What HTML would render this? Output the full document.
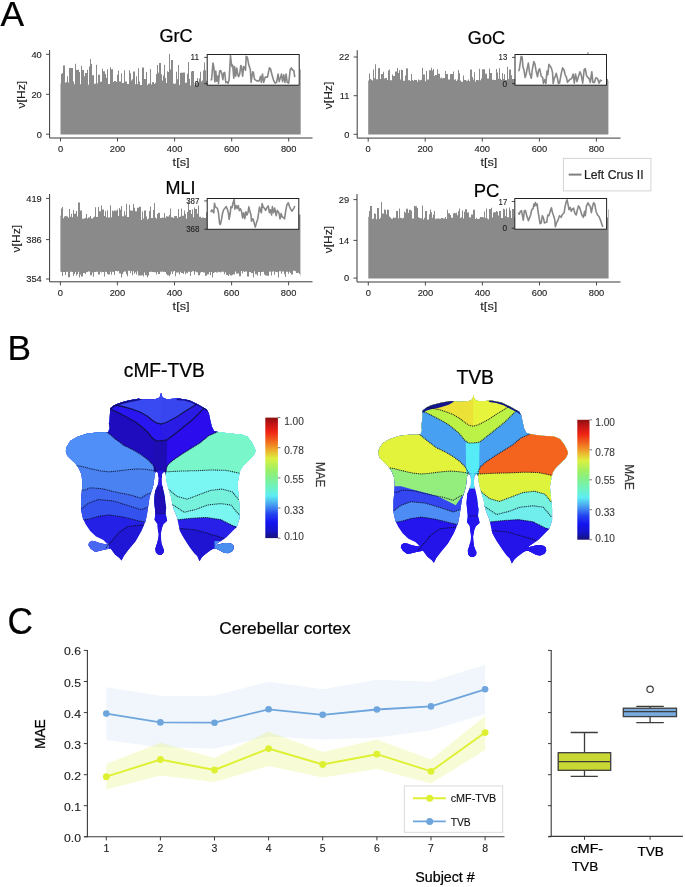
<!DOCTYPE html>
<html><head><meta charset="utf-8"><style>
html,body{margin:0;padding:0;background:#fff;}
svg{display:block;filter:blur(0.35px);}
text{font-family:"Liberation Sans", sans-serif;}
</style></head><body>
<svg width="685" height="887" viewBox="0 0 685 887">
<rect width="685" height="887" fill="#fff"/>
<path d="M60.5,134.6L60.5,83.4L61,83.4L61,74L62,74L62,73L63,73L63,65.5L65,65.5L65,82.8L66,82.8L66,82.1L67,82.1L67,76.2L68,76.2L68,82.4L69,82.4L69,68L71,68L71,67.9L73,67.9L73,81.5L74,81.5L74,84.3L75,84.3L75,63.8L76,63.8L76,70.1L77,70.1L77,69.8L79,69.8L79,72L80,72L80,84.3L81,84.3L81,65.8L82,65.8L82,70.1L84,70.1L84,76.3L85,76.3L85,73L87,73L87,69.8L88,69.8L88,84.7L89,84.7L89,66.5L90,66.5L90,59.1L91,59.1L91,64L92,64L92,75.3L94,75.3L94,83.8L96,83.8L96,64.8L97,64.8L97,83.2L98,83.2L98,74.7L100,74.7L100,81.7L102,81.7L102,68.8L103,68.8L103,71.2L105,71.2L105,74L106,74L106,77.7L107,77.7L107,69.2L108,69.2L108,84.1L110,84.1L110,67.3L111,67.3L111,69.2L113,69.2L113,81.9L114,81.9L114,80.9L116,80.9L116,82L117,82L117,74.8L118,74.8L118,70.4L119,70.4L119,81.4L120,81.4L120,81.4L121,81.4L121,73.2L122,73.2L122,82.9L124,82.9L124,70.3L125,70.3L125,81.4L127,81.4L127,84L129,84L129,70.3L130,70.3L130,73.2L131,73.2L131,80.4L132,80.4L132,79.3L133,79.3L133,71.4L135,71.4L135,84.3L136,84.3L136,76.3L137,76.3L137,84L138,84L138,68.2L139,68.2L139,81.6L140,81.6L140,85.1L142,85.1L142,67.6L144,67.6L144,78.9L146,78.9L146,72L147,72L147,85L148,85L148,83.8L149,83.8L149,83.4L150,83.4L150,69L151,69L151,84.5L152,84.5L152,82.2L153,82.2L153,82.1L154,82.1L154,83.9L155,83.9L155,82.7L156,82.7L156,74.1L157,74.1L157,64.9L158,64.9L158,72.8L159,72.8L159,63.1L161,63.1L161,74.3L162,74.3L162,80.6L163,80.6L163,75.4L164,75.4L164,64.7L165,64.7L165,78L166,78L166,82.9L167,82.9L167,71.3L168,71.3L168,72.1L169,72.1L169,54.1L170,54.1L170,69.6L171,69.6L171,60.1L173,60.1L173,83.6L174,83.6L174,83.9L175,83.9L175,83.4L176,83.4L176,71.7L177,71.7L177,79.2L178,79.2L178,64.9L179,64.9L179,85.1L180,85.1L180,72.8L182,72.8L182,72.7L183,72.7L183,72.6L185,72.6L185,82.8L187,82.8L187,73.7L188,73.7L188,61.9L189,61.9L189,79.1L190,79.1L190,85.5L191,85.5L191,71.4L192,71.4L192,71.1L194,71.1L194,85.3L195,85.3L195,82.8L197,82.8L197,78L198,78L198,83.3L199,83.3L199,78.6L200,78.6L200,71.8L201,71.8L201,81.6L202,81.6L202,80.6L203,80.6L203,70.4L204,70.4L204,62.4L205,62.4L205,70.2L206,70.2L206,80.8L207,80.8L207,82.2L208,82.2L208,77.4L209,77.4L209,82.7L210,82.7L210,76.5L211,76.5L211,70.9L212,70.9L212,80.7L213,80.7L213,84L215,84L215,66L216,66L216,67.3L217,67.3L217,84.3L218,84.3L218,78.5L219,78.5L219,84.1L220,84.1L220,54.1L222,54.1L222,83.8L223,83.8L223,83.5L224,83.5L224,81.4L226,81.4L226,73.7L228,73.7L228,83.1L229,83.1L229,65L231,65L231,58.6L232,58.6L232,81.3L233,81.3L233,74.6L235,74.6L235,76.8L236,76.8L236,82.1L237,82.1L237,68.1L238,68.1L238,82.6L239,82.6L239,68.8L240,68.8L240,83.2L241,83.2L241,82L242,82L242,77.6L243,77.6L243,82.6L245,82.6L245,75.8L246,75.8L246,74.4L247,74.4L247,75.3L248,75.3L248,70.7L249,70.7L249,83.6L251,83.6L251,73.1L252,73.1L252,66.1L254,66.1L254,84L255,84L255,63L256,63L256,81.5L257,81.5L257,65.1L258,65.1L258,64.5L260,64.5L260,68.5L261,68.5L261,81.8L262,81.8L262,82.4L263,82.4L263,81.5L264,81.5L264,74.9L265,74.9L265,70.4L266,70.4L266,81.3L267,81.3L267,82.3L268,82.3L268,84.3L269,84.3L269,68.2L270,68.2L270,59.6L271,59.6L271,82.9L273,82.9L273,73.5L274,73.5L274,82.6L275,82.6L275,65.2L277,65.2L277,83.1L278,83.1L278,70L279,70L279,82.8L280,82.8L280,73.5L282,73.5L282,83.1L283,83.1L283,66.1L284,66.1L284,63.5L285,63.5L285,83.9L286,83.9L286,77.7L287,77.7L287,68.7L288,68.7L288,68.8L289,68.8L289,57.9L290,57.9L290,75.6L291,75.6L291,83.5L292,83.5L292,68.4L293,68.4L293,84.9L294,84.9L294,84.2L296,84.2L296,77.5L297,77.5L297,72.2L298,72.2L298,85.5L300,85.5L300,69.5L300.7,69.5L300.7,134.6Z" fill="#8a8a8a"/>
<path d="M49.6,50V138H312.5" fill="none" stroke="#3a3a3a" stroke-width="1.0"/>
<path d="M46,134.2H49.6" stroke="#3a3a3a" stroke-width="0.9"/>
<text x="41.8" y="137.5" font-size="9.3" text-anchor="end" fill="#222" stroke="#222" stroke-width="0.12" >0</text>
<path d="M46,94.3H49.6" stroke="#3a3a3a" stroke-width="0.9"/>
<text x="41.8" y="97.6" font-size="9.3" text-anchor="end" fill="#222" stroke="#222" stroke-width="0.12" >20</text>
<path d="M46,54.3H49.6" stroke="#3a3a3a" stroke-width="0.9"/>
<text x="41.8" y="57.6" font-size="9.3" text-anchor="end" fill="#222" stroke="#222" stroke-width="0.12" >40</text>
<path d="M60.5,138V141.6" stroke="#3a3a3a" stroke-width="0.9"/>
<text x="60.5" y="152.3" font-size="9.3" text-anchor="middle" fill="#222" stroke="#222" stroke-width="0.12" >0</text>
<path d="M117.5,138V141.6" stroke="#3a3a3a" stroke-width="0.9"/>
<text x="117.5" y="152.3" font-size="9.3" text-anchor="middle" fill="#222" stroke="#222" stroke-width="0.12" >200</text>
<path d="M174.6,138V141.6" stroke="#3a3a3a" stroke-width="0.9"/>
<text x="174.6" y="152.3" font-size="9.3" text-anchor="middle" fill="#222" stroke="#222" stroke-width="0.12" >400</text>
<path d="M231.7,138V141.6" stroke="#3a3a3a" stroke-width="0.9"/>
<text x="231.7" y="152.3" font-size="9.3" text-anchor="middle" fill="#222" stroke="#222" stroke-width="0.12" >600</text>
<path d="M288.7,138V141.6" stroke="#3a3a3a" stroke-width="0.9"/>
<text x="288.7" y="152.3" font-size="9.3" text-anchor="middle" fill="#222" stroke="#222" stroke-width="0.12" >800</text>
<text x="181.1" y="166.3" font-size="11" text-anchor="middle" fill="#222" stroke="#222" stroke-width="0.12" textLength="17" lengthAdjust="spacingAndGlyphs" >t[s]</text>
<text x="25.1" y="94.7" font-size="11" text-anchor="middle" fill="#222" stroke="#222" stroke-width="0.12" textLength="27.5" lengthAdjust="spacingAndGlyphs" transform="rotate(-90 25.1 94.7)" >&#957;[Hz]</text>
<path d="M368.2,134.6L368.2,80.5L369,80.5L369,73.6L370,73.6L370,78.9L371,78.9L371,79.7L372,79.7L372,80.4L373,80.4L373,69.4L374,69.4L374,78.3L375,78.3L375,64.2L376,64.2L376,79.2L378,79.2L378,68.3L379,68.3L379,67.9L380,67.9L380,78.9L381,78.9L381,74L383,74L383,71.7L384,71.7L384,78.4L385,78.4L385,77.9L387,77.9L387,80L388,80L388,70.6L389,70.6L389,69.6L390,69.6L390,80.3L391,80.3L391,80.2L392,80.2L392,74.6L393,74.6L393,76.1L395,76.1L395,71.6L397,71.6L397,68L398,68L398,72.9L399,72.9L399,70.3L400,70.3L400,79.5L401,79.5L401,69.7L402,69.7L402,70L403,70L403,80.8L405,80.8L405,75.5L406,75.5L406,68.3L407,68.3L407,68.6L408,68.6L408,80.3L409,80.3L409,79.9L410,79.9L410,81.1L411,81.1L411,74L412,74L412,80.1L413,80.1L413,80.7L414,80.7L414,79.7L415,79.7L415,80.1L417,80.1L417,81.7L418,81.7L418,79.6L419,79.6L419,80.3L421,80.3L421,79.7L422,79.7L422,67.7L423,67.7L423,74.5L425,74.5L425,81.3L426,81.3L426,70.9L427,70.9L427,79.6L429,79.6L429,70.2L431,70.2L431,67.7L432,67.7L432,70.4L433,70.4L433,68.9L434,68.9L434,76.1L435,76.1L435,74.9L437,74.9L437,69.2L438,69.2L438,73.7L440,73.7L440,78.3L441,78.3L441,77.5L442,77.5L442,78.6L443,78.6L443,77.9L445,77.9L445,71L446,71L446,73.9L447,73.9L447,74L448,74L448,79.6L450,79.6L450,74.1L452,74.1L452,74.1L453,74.1L453,71.6L454,71.6L454,79.8L455,79.8L455,79.2L456,79.2L456,80.9L457,80.9L457,79.4L458,79.4L458,70.1L459,70.1L459,73.3L460,73.3L460,80.4L461,80.4L461,81.7L463,81.7L463,75.6L464,75.6L464,79.9L466,79.9L466,80.8L468,80.8L468,79.6L469,79.6L469,81.3L470,81.3L470,69.6L472,69.6L472,76.9L473,76.9L473,79.6L474,79.6L474,72.2L475,72.2L475,81.7L476,81.7L476,80.1L478,80.1L478,80.3L479,80.3L479,68.8L480,68.8L480,80.3L481,80.3L481,78.6L482,78.6L482,69.2L483,69.2L483,69.2L485,69.2L485,73.7L487,73.7L487,78.4L489,78.4L489,68.6L490,68.6L490,72.9L492,72.9L492,79.8L494,79.8L494,80.1L496,80.1L496,69L497,69L497,72.4L498,72.4L498,78.7L499,78.7L499,68.2L500,68.2L500,78.7L501,78.7L501,80L502,80L502,73.1L503,73.1L503,79L504,79L504,74.2L505,74.2L505,80.1L507,80.1L507,66.7L508,66.7L508,79L509,79L509,69.4L511,69.4L511,75.3L512,75.3L512,78.9L513,78.9L513,78.9L515,78.9L515,71.5L516,71.5L516,72.2L517,72.2L517,71.3L519,71.3L519,70.3L520,70.3L520,75.2L521,75.2L521,70L522,70L522,79.9L524,79.9L524,69.1L525,69.1L525,74.8L526,74.8L526,81.1L527,81.1L527,79.9L528,79.9L528,72.7L530,72.7L530,73.8L531,73.8L531,69.9L532,69.9L532,81L534,81L534,78.9L536,78.9L536,70L537,70L537,68.4L538,68.4L538,80.4L540,80.4L540,68.9L541,68.9L541,79L542,79L542,79.8L543,79.8L543,80.4L544,80.4L544,71.8L545,71.8L545,68.3L546,68.3L546,80.6L547,80.6L547,77.4L548,77.4L548,78.3L549,78.3L549,71.2L550,71.2L550,79.6L551,79.6L551,75L553,75L553,68.6L554,68.6L554,70.7L555,70.7L555,67.4L556,67.4L556,80.4L557,80.4L557,78.7L558,78.7L558,78.6L560,78.6L560,78.1L561,78.1L561,65L563,65L563,78.7L564,78.7L564,79.3L566,79.3L566,78.8L567,78.8L567,80.1L569,80.1L569,78.9L570,78.9L570,81.2L572,81.2L572,79.1L573,79.1L573,74.4L574,74.4L574,69.3L576,69.3L576,71.2L578,71.2L578,81.6L579,81.6L579,81.7L580,81.7L580,80.4L581,80.4L581,79.5L582,79.5L582,61.6L583,61.6L583,69L584,69L584,80.7L585,80.7L585,73.5L586,73.5L586,71.5L587,71.5L587,61.6L588,61.6L588,80.3L589,80.3L589,80.2L590,80.2L590,72.9L591,72.9L591,74.6L592,74.6L592,72.3L594,72.3L594,73.7L595,73.7L595,70.1L596,70.1L596,71.1L597,71.1L597,71.8L599,71.8L599,73.6L600,73.6L600,81L601,81L601,75.7L603,75.7L603,64.3L604,64.3L604,75.6L606,75.6L606,78.9L608,78.9L608,80.7L608.4,80.7L608.4,134.6Z" fill="#8a8a8a"/>
<path d="M357.2,50.2V138.1H620.5" fill="none" stroke="#3a3a3a" stroke-width="1.0"/>
<path d="M353.6,134.3H357.2" stroke="#3a3a3a" stroke-width="0.9"/>
<text x="349.4" y="137.6" font-size="9.3" text-anchor="end" fill="#222" stroke="#222" stroke-width="0.12" >0</text>
<path d="M353.6,95.7H357.2" stroke="#3a3a3a" stroke-width="0.9"/>
<text x="349.4" y="99" font-size="9.3" text-anchor="end" fill="#222" stroke="#222" stroke-width="0.12" >11</text>
<path d="M353.6,57H357.2" stroke="#3a3a3a" stroke-width="0.9"/>
<text x="349.4" y="60.3" font-size="9.3" text-anchor="end" fill="#222" stroke="#222" stroke-width="0.12" >22</text>
<path d="M368.2,138.1V141.7" stroke="#3a3a3a" stroke-width="0.9"/>
<text x="368.2" y="152.4" font-size="9.3" text-anchor="middle" fill="#222" stroke="#222" stroke-width="0.12" >0</text>
<path d="M425.2,138.1V141.7" stroke="#3a3a3a" stroke-width="0.9"/>
<text x="425.2" y="152.4" font-size="9.3" text-anchor="middle" fill="#222" stroke="#222" stroke-width="0.12" >200</text>
<path d="M482.3,138.1V141.7" stroke="#3a3a3a" stroke-width="0.9"/>
<text x="482.3" y="152.4" font-size="9.3" text-anchor="middle" fill="#222" stroke="#222" stroke-width="0.12" >400</text>
<path d="M539.4,138.1V141.7" stroke="#3a3a3a" stroke-width="0.9"/>
<text x="539.4" y="152.4" font-size="9.3" text-anchor="middle" fill="#222" stroke="#222" stroke-width="0.12" >600</text>
<path d="M596.4,138.1V141.7" stroke="#3a3a3a" stroke-width="0.9"/>
<text x="596.4" y="152.4" font-size="9.3" text-anchor="middle" fill="#222" stroke="#222" stroke-width="0.12" >800</text>
<text x="488.9" y="166.4" font-size="11" text-anchor="middle" fill="#222" stroke="#222" stroke-width="0.12" textLength="17" lengthAdjust="spacingAndGlyphs" >t[s]</text>
<text x="331.8" y="95.5" font-size="11" text-anchor="middle" fill="#222" stroke="#222" stroke-width="0.12" textLength="27.5" lengthAdjust="spacingAndGlyphs" transform="rotate(-90 331.8 95.5)" >&#957;[Hz]</text>
<path d="M60.4,271.5L60.4,215.8L61,215.8L61,208.5L62,208.5L62,206.9L63,206.9L63,218.2L64,218.2L64,216.6L65,216.6L65,216L66,216L66,216.2L67,216.2L67,216.4L68,216.4L68,217.8L69,217.8L69,209L70,209L70,216.8L71,216.8L71,213.8L72,213.8L72,217.2L73,217.2L73,209.9L74,209.9L74,213.7L76,213.7L76,210.9L77,210.9L77,216.5L78,216.5L78,202.4L80,202.4L80,210.4L82,210.4L82,218.7L84,218.7L84,218.5L85,218.5L85,217.7L86,217.7L86,213.9L87,213.9L87,218.6L88,218.6L88,217.5L89,217.5L89,217.5L90,217.5L90,215.9L91,215.9L91,218.6L93,218.6L93,217.4L94,217.4L94,216.6L95,216.6L95,207.3L96,207.3L96,216.9L98,216.9L98,207.1L99,207.1L99,211.3L101,211.3L101,205.6L102,205.6L102,209.5L104,209.5L104,216.1L105,216.1L105,210.9L106,210.9L106,217.2L107,217.2L107,210.2L108,210.2L108,217.5L110,217.5L110,205.3L111,205.3L111,217.3L112,217.3L112,210.4L113,210.4L113,211.2L114,211.2L114,210.6L116,210.6L116,210.8L117,210.8L117,209.4L118,209.4L118,216L119,216L119,207.9L120,207.9L120,209.7L121,209.7L121,205.9L122,205.9L122,216.3L123,216.3L123,216.2L124,216.2L124,211.3L125,211.3L125,215.2L126,215.2L126,203.8L127,203.8L127,216.9L129,216.9L129,204.7L130,204.7L130,210.6L132,210.6L132,210.8L133,210.8L133,204.1L134,204.1L134,207.8L135,207.8L135,211.3L137,211.3L137,207.8L139,207.8L139,206.7L141,206.7L141,219.9L142,219.9L142,211.5L143,211.5L143,218.5L144,218.5L144,210.5L146,210.5L146,216.4L147,216.4L147,219.4L148,219.4L148,218.6L149,218.6L149,211L150,211L150,206.4L151,206.4L151,218L153,218L153,209.9L154,209.9L154,203.1L155,203.1L155,217.4L156,217.4L156,218.6L157,218.6L157,214L158,214L158,212.8L160,212.8L160,218L162,218L162,217.5L163,217.5L163,217.7L164,217.7L164,213.1L165,213.1L165,217.8L166,217.8L166,216.2L167,216.2L167,216.6L169,216.6L169,215L170,215L170,208.4L171,208.4L171,217.2L173,217.2L173,217.9L174,217.9L174,216.3L175,216.3L175,216.1L177,216.1L177,218L178,218L178,208.9L179,208.9L179,216.9L180,216.9L180,216.6L181,216.6L181,208.5L182,208.5L182,215.7L184,215.7L184,210.5L185,210.5L185,213.7L186,213.7L186,218.7L187,218.7L187,212L188,212L188,201.2L189,201.2L189,210L191,210L191,213.9L192,213.9L192,209.5L193,209.5L193,217.3L194,217.3L194,207.6L195,207.6L195,209.1L197,209.1L197,213.8L198,213.8L198,205.6L199,205.6L199,216.8L201,216.8L201,218L202,218L202,217.6L204,217.6L204,218.1L206,218.1L206,212.2L208,212.2L208,208.3L209,208.3L209,217.6L211,217.6L211,216.2L212,216.2L212,218.1L213,218.1L213,218.4L214,218.4L214,218.4L215,218.4L215,206L217,206L217,217.1L219,217.1L219,210.7L220,210.7L220,216.9L221,216.9L221,204.4L223,204.4L223,208.1L224,208.1L224,216.7L226,216.7L226,216.4L228,216.4L228,206.8L230,206.8L230,217.4L231,217.4L231,209.8L232,209.8L232,202.3L234,202.3L234,207.3L235,207.3L235,216.3L236,216.3L236,207L237,207L237,217.1L238,217.1L238,208.2L239,208.2L239,218.4L240,218.4L240,204.3L241,204.3L241,216.3L242,216.3L242,212.3L243,212.3L243,216.6L244,216.6L244,215.3L246,215.3L246,206.9L248,206.9L248,219.2L250,219.2L250,211.3L251,211.3L251,218.1L252,218.1L252,217.7L253,217.7L253,216.9L254,216.9L254,216.2L256,216.2L256,209.1L257,209.1L257,209.1L258,209.1L258,219.2L259,219.2L259,218.1L261,218.1L261,219.4L262,219.4L262,218.4L263,218.4L263,212.9L264,212.9L264,216.6L265,216.6L265,207.8L267,207.8L267,217.2L268,217.2L268,217.2L269,217.2L269,206.2L270,206.2L270,206.9L272,206.9L272,205.4L273,205.4L273,208.2L274,208.2L274,208.7L275,208.7L275,209.6L277,209.6L277,214L278,214L278,206.8L280,206.8L280,206.4L281,206.4L281,212.4L282,212.4L282,213.8L283,213.8L283,203.5L284,203.5L284,218L285,218L285,216.7L286,216.7L286,206.7L287,206.7L287,212.1L288,212.1L288,218.5L289,218.5L289,208.6L290,208.6L290,218L291,218L291,206.6L292,206.6L292,211.3L294,211.3L294,206.6L296,206.6L296,210.4L297,210.4L297,203.9L298,203.9L298,207.7L299,207.7L299,214.4L300.4,214.4L300.4,275.6L300,275.6L300,274L299,274L299,272.7L298,272.7L298,273L296,273L296,271.2L295,271.2L295,270.8L293,270.8L293,274.6L291,274.6L291,273.1L290,273.1L290,271.7L289,271.7L289,273.7L288,273.7L288,271.8L286,271.8L286,277L285,277L285,274.2L284,274.2L284,271.6L283,271.6L283,271.6L282,271.6L282,273.8L281,273.8L281,271.2L279,271.2L279,277.5L278,277.5L278,272.2L277,272.2L277,272.1L276,272.1L276,271.8L275,271.8L275,274.8L274,274.8L274,271.3L273,271.3L273,271.8L272,271.8L272,275.5L271,275.5L271,271.4L270,271.4L270,271.7L269,271.7L269,275.7L267,275.7L267,275.4L265,275.4L265,274.4L264,274.4L264,271.8L263,271.8L263,272L261,272L261,275.8L260,275.8L260,272.1L258,272.1L258,275.7L257,275.7L257,274.2L255,274.2L255,271.2L254,271.2L254,277.5L253,277.5L253,273.1L252,273.1L252,273.2L251,273.2L251,272L249,272L249,276.4L247,276.4L247,271.6L245,271.6L245,272L244,272L244,271.3L243,271.3L243,273.4L242,273.4L242,271.1L241,271.1L241,276.2L239,276.2L239,273.6L238,273.6L238,273.6L236,273.6L236,271.6L235,271.6L235,274.6L234,274.6L234,273.9L233,273.9L233,274.9L232,274.9L232,275.6L230,275.6L230,274.3L229,274.3L229,276.1L228,276.1L228,275.1L226,275.1L226,272.3L225,272.3L225,274.3L224,274.3L224,271.8L223,271.8L223,271.7L221,271.7L221,272.5L220,272.5L220,272L219,272L219,271.7L218,271.7L218,272.5L216,272.5L216,272L215,272L215,272.4L214,272.4L214,273.1L213,273.1L213,277.5L212,277.5L212,272.1L211,272.1L211,275.1L210,275.1L210,271.9L209,271.9L209,274.3L207,274.3L207,275.8L205,275.8L205,272.5L204,272.5L204,272.4L203,272.4L203,272.1L201,272.1L201,272.7L200,272.7L200,275.2L198,275.2L198,272.2L197,272.2L197,272.2L196,272.2L196,271.4L195,271.4L195,274.8L194,274.8L194,271.3L192,271.3L192,272.1L191,272.1L191,276.1L190,276.1L190,271.7L188,271.7L188,273.3L187,273.3L187,272.7L186,272.7L186,274.3L185,274.3L185,271.5L184,271.5L184,274L183,274L183,273L181,273L181,271.8L180,271.8L180,274.6L179,274.6L179,272.6L177,272.6L177,272.4L176,272.4L176,276.2L175,276.2L175,271.1L174,271.1L174,271.6L173,271.6L173,274.1L172,274.1L172,271.4L171,271.4L171,274.6L170,274.6L170,276.2L169,276.2L169,275.3L167,275.3L167,274.1L166,274.1L166,272L165,272L165,271.7L164,271.7L164,272.1L163,272.1L163,271.4L162,271.4L162,271.8L160,271.8L160,273.9L159,273.9L159,274L158,274L158,272.1L157,272.1L157,274.4L156,274.4L156,272.3L154,272.3L154,272.1L152,272.1L152,271.8L150,271.8L150,271.9L149,271.9L149,275.5L148,275.5L148,277.3L147,277.3L147,275.3L145,275.3L145,272.4L144,272.4L144,276.5L143,276.5L143,275L142,275L142,275.5L140,275.5L140,275.4L138,275.4L138,271.2L137,271.2L137,274.4L136,274.4L136,272.2L135,272.2L135,273.8L134,273.8L134,271.2L133,271.2L133,275.3L132,275.3L132,270.9L131,270.9L131,273L130,273L130,270.8L128,270.8L128,276.2L127,276.2L127,274.2L126,274.2L126,271.6L124,271.6L124,272.2L123,272.2L123,274.3L122,274.3L122,277.5L121,277.5L121,273.4L119,273.4L119,270.9L118,270.9L118,271.4L117,271.4L117,271L115,271L115,275L114,275L114,271.9L113,271.9L113,271.8L112,271.8L112,274.7L111,274.7L111,271.7L110,271.7L110,274.5L109,274.5L109,274.6L108,274.6L108,274L107,274L107,271.9L106,271.9L106,271.7L105,271.7L105,276.6L104,276.6L104,272.1L102,272.1L102,272.5L101,272.5L101,271.7L100,271.7L100,274.6L98,274.6L98,271.8L96,271.8L96,272L94,272L94,276.7L93,276.7L93,272.6L92,272.6L92,275.3L90,275.3L90,271.5L88,271.5L88,272L87,272L87,272.3L86,272.3L86,274.1L85,274.1L85,273L83,273L83,276.6L81,276.6L81,274.5L80,274.5L80,277.5L79,277.5L79,271.8L78,271.8L78,274.3L77,274.3L77,275.6L76,275.6L76,272.1L75,272.1L75,274L74,274L74,276.1L73,276.1L73,272.1L72,272.1L72,271.7L70,271.7L70,277.2L68,277.2L68,271.7L67,271.7L67,272L66,272L66,274.9L65,274.9L65,272L63,272L63,276L62,276L62,272L61,272L61,271.5L60.4,271.5Z" fill="#8a8a8a"/>
<path d="M49.6,194V281.8H312.5" fill="none" stroke="#3a3a3a" stroke-width="1.0"/>
<path d="M46,279H49.6" stroke="#3a3a3a" stroke-width="0.9"/>
<text x="41.8" y="282.3" font-size="9.3" text-anchor="end" fill="#222" stroke="#222" stroke-width="0.12" >354</text>
<path d="M46,239.6H49.6" stroke="#3a3a3a" stroke-width="0.9"/>
<text x="41.8" y="242.9" font-size="9.3" text-anchor="end" fill="#222" stroke="#222" stroke-width="0.12" >386</text>
<path d="M46,198.4H49.6" stroke="#3a3a3a" stroke-width="0.9"/>
<text x="41.8" y="201.7" font-size="9.3" text-anchor="end" fill="#222" stroke="#222" stroke-width="0.12" >419</text>
<path d="M60.4,281.8V285.4" stroke="#3a3a3a" stroke-width="0.9"/>
<text x="60.4" y="296.1" font-size="9.3" text-anchor="middle" fill="#222" stroke="#222" stroke-width="0.12" >0</text>
<path d="M117.4,281.8V285.4" stroke="#3a3a3a" stroke-width="0.9"/>
<text x="117.4" y="296.1" font-size="9.3" text-anchor="middle" fill="#222" stroke="#222" stroke-width="0.12" >200</text>
<path d="M174.5,281.8V285.4" stroke="#3a3a3a" stroke-width="0.9"/>
<text x="174.5" y="296.1" font-size="9.3" text-anchor="middle" fill="#222" stroke="#222" stroke-width="0.12" >400</text>
<path d="M231.6,281.8V285.4" stroke="#3a3a3a" stroke-width="0.9"/>
<text x="231.6" y="296.1" font-size="9.3" text-anchor="middle" fill="#222" stroke="#222" stroke-width="0.12" >600</text>
<path d="M288.6,281.8V285.4" stroke="#3a3a3a" stroke-width="0.9"/>
<text x="288.6" y="296.1" font-size="9.3" text-anchor="middle" fill="#222" stroke="#222" stroke-width="0.12" >800</text>
<text x="181.1" y="310.1" font-size="11" text-anchor="middle" fill="#222" stroke="#222" stroke-width="0.12" textLength="17" lengthAdjust="spacingAndGlyphs" >t[s]</text>
<text x="19.8" y="238.7" font-size="11" text-anchor="middle" fill="#222" stroke="#222" stroke-width="0.12" textLength="27.5" lengthAdjust="spacingAndGlyphs" transform="rotate(-90 19.8 238.7)" >&#957;[Hz]</text>
<path d="M368.3,278.4L368.3,216.8L369,216.8L369,211.1L370,211.1L370,206.1L372,206.1L372,218.9L373,218.9L373,218.4L374,218.4L374,213.5L375,213.5L375,213.8L376,213.8L376,219.2L377,219.2L377,208.1L379,208.1L379,219L380,219L380,217.7L381,217.7L381,201.9L382,201.9L382,213.5L383,213.5L383,213.4L384,213.4L384,209.6L385,209.6L385,209.7L386,209.7L386,214.2L387,214.2L387,209.8L389,209.8L389,216.6L390,216.6L390,217.6L391,217.6L391,218.7L393,218.7L393,217.6L394,217.6L394,217.7L396,217.7L396,211L398,211L398,218.2L399,218.2L399,208.5L400,208.5L400,217.7L401,217.7L401,218.1L402,218.1L402,218.4L403,218.4L403,217.7L404,217.7L404,211.4L405,211.4L405,212.8L406,212.8L406,208.8L408,208.8L408,212.8L409,212.8L409,209.7L411,209.7L411,210.8L412,210.8L412,218.4L413,218.4L413,218.5L414,218.5L414,205.8L415,205.8L415,206.3L417,206.3L417,208.1L418,208.1L418,217.2L419,217.2L419,217.9L420,217.9L420,218.3L422,218.3L422,205.4L423,205.4L423,219.4L424,219.4L424,217.7L425,217.7L425,210.9L427,210.9L427,219.5L429,219.5L429,214.3L430,214.3L430,209.6L431,209.6L431,212.3L432,212.3L432,217.8L433,217.8L433,214.5L434,214.5L434,210.9L435,210.9L435,218.7L437,218.7L437,218.6L439,218.6L439,218.8L441,218.8L441,217.9L443,217.9L443,218.5L445,218.5L445,217.1L446,217.1L446,218.9L447,218.9L447,209.7L448,209.7L448,213.2L450,213.2L450,215.1L451,215.1L451,217.4L452,217.4L452,217.9L453,217.9L453,213.6L454,213.6L454,212.8L455,212.8L455,213.3L456,213.3L456,212.8L457,212.8L457,215.2L458,215.2L458,211.2L459,211.2L459,208.5L460,208.5L460,218.1L461,218.1L461,217.2L462,217.2L462,210.6L463,210.6L463,218.4L464,218.4L464,211.7L465,211.7L465,209.3L467,209.3L467,212.4L469,212.4L469,217.3L470,217.3L470,217.5L471,217.5L471,214.4L473,214.4L473,209.7L475,209.7L475,218.9L476,218.9L476,217.7L477,217.7L477,218.9L479,218.9L479,218.5L480,218.5L480,217.1L481,217.1L481,217L483,217L483,217.5L484,217.5L484,211.5L485,211.5L485,218.1L486,218.1L486,208.5L487,208.5L487,218.4L488,218.4L488,219.2L489,219.2L489,209.1L491,209.1L491,207.7L492,207.7L492,217.4L493,217.4L493,212.5L494,212.5L494,212.2L496,212.2L496,211.1L497,211.1L497,211.8L498,211.8L498,215.5L499,215.5L499,211.1L501,211.1L501,218.1L503,218.1L503,208.7L504,208.7L504,209.3L505,209.3L505,216.2L506,216.2L506,208.6L507,208.6L507,217.2L509,217.2L509,207.5L510,207.5L510,210.5L511,210.5L511,218.1L512,218.1L512,209L514,209L514,217.1L516,217.1L516,208.3L517,208.3L517,213.8L519,213.8L519,216.1L521,216.1L521,217L522,217L522,210.3L523,210.3L523,210.4L524,210.4L524,209.7L526,209.7L526,217.8L527,217.8L527,216.1L528,216.1L528,218.1L529,218.1L529,206.9L530,206.9L530,203.3L531,203.3L531,201.9L532,201.9L532,217.4L533,217.4L533,218.1L535,218.1L535,217L536,217L536,217.9L537,217.9L537,208.4L538,208.4L538,218.9L539,218.9L539,203.2L541,203.2L541,218.6L542,218.6L542,212.4L543,212.4L543,217.9L544,217.9L544,204.3L546,204.3L546,207.3L548,207.3L548,211.6L550,211.6L550,205.2L551,205.2L551,214.7L552,214.7L552,203.6L553,203.6L553,218L555,218L555,218L556,218L556,211.1L558,211.1L558,210.6L559,210.6L559,217.8L560,217.8L560,217.8L562,217.8L562,209.5L564,209.5L564,208.6L565,208.6L565,212.7L566,212.7L566,208.2L568,208.2L568,218.7L569,218.7L569,216.5L570,216.5L570,215.7L571,215.7L571,212L572,212L572,210.5L574,210.5L574,212.6L575,212.6L575,216.6L576,216.6L576,217L577,217L577,216.9L579,216.9L579,206.7L580,206.7L580,211.5L581,211.5L581,217.9L582,217.9L582,217.2L583,217.2L583,212L585,212L585,211.6L586,211.6L586,218.8L588,218.8L588,217L590,217L590,205.8L591,205.8L591,218.9L592,218.9L592,206.6L593,206.6L593,217.7L594,217.7L594,217.4L595,217.4L595,210.6L596,210.6L596,218.2L597,218.2L597,202.7L599,202.7L599,212.4L600,212.4L600,213.9L601,213.9L601,213.3L603,213.3L603,213.9L604,213.9L604,211.9L605,211.9L605,217.1L606,217.1L606,217.4L608,217.4L608,209.4L608.6,209.4L608.6,278.4Z" fill="#8a8a8a"/>
<path d="M357,194V282H620.5" fill="none" stroke="#3a3a3a" stroke-width="1.0"/>
<path d="M353.4,278.1H357" stroke="#3a3a3a" stroke-width="0.9"/>
<text x="349.2" y="281.4" font-size="9.3" text-anchor="end" fill="#222" stroke="#222" stroke-width="0.12" >0</text>
<path d="M353.4,240.4H357" stroke="#3a3a3a" stroke-width="0.9"/>
<text x="349.2" y="243.7" font-size="9.3" text-anchor="end" fill="#222" stroke="#222" stroke-width="0.12" >14</text>
<path d="M353.4,199.6H357" stroke="#3a3a3a" stroke-width="0.9"/>
<text x="349.2" y="202.9" font-size="9.3" text-anchor="end" fill="#222" stroke="#222" stroke-width="0.12" >29</text>
<path d="M368.3,282V285.6" stroke="#3a3a3a" stroke-width="0.9"/>
<text x="368.3" y="296.3" font-size="9.3" text-anchor="middle" fill="#222" stroke="#222" stroke-width="0.12" >0</text>
<path d="M425.4,282V285.6" stroke="#3a3a3a" stroke-width="0.9"/>
<text x="425.4" y="296.3" font-size="9.3" text-anchor="middle" fill="#222" stroke="#222" stroke-width="0.12" >200</text>
<path d="M482.4,282V285.6" stroke="#3a3a3a" stroke-width="0.9"/>
<text x="482.4" y="296.3" font-size="9.3" text-anchor="middle" fill="#222" stroke="#222" stroke-width="0.12" >400</text>
<path d="M539.5,282V285.6" stroke="#3a3a3a" stroke-width="0.9"/>
<text x="539.5" y="296.3" font-size="9.3" text-anchor="middle" fill="#222" stroke="#222" stroke-width="0.12" >600</text>
<path d="M596.5,282V285.6" stroke="#3a3a3a" stroke-width="0.9"/>
<text x="596.5" y="296.3" font-size="9.3" text-anchor="middle" fill="#222" stroke="#222" stroke-width="0.12" >800</text>
<text x="488.8" y="310.3" font-size="11" text-anchor="middle" fill="#222" stroke="#222" stroke-width="0.12" textLength="17" lengthAdjust="spacingAndGlyphs" >t[s]</text>
<text x="331.8" y="239.6" font-size="11" text-anchor="middle" fill="#222" stroke="#222" stroke-width="0.12" textLength="27.5" lengthAdjust="spacingAndGlyphs" transform="rotate(-90 331.8 239.6)" >&#957;[Hz]</text>
<rect x="587.2" y="52.3" width="1.3" height="3" fill="#8a8a8a"/>
<rect x="207.2" y="54.5" width="92" height="30.7" fill="#fff" stroke="#222" stroke-width="1"/>
<path d="M204.2,57.4H207.2" stroke="#222" stroke-width="0.8"/>
<text x="199.2" y="60.4" font-size="8.4" text-anchor="end" fill="#222" stroke="#222" stroke-width="0.12" textLength="8.6" lengthAdjust="spacingAndGlyphs" >11</text>
<path d="M204.2,83.6H207.2" stroke="#222" stroke-width="0.8"/>
<text x="199.2" y="86.6" font-size="8.4" text-anchor="end" fill="#222" stroke="#222" stroke-width="0.12" >0</text>
<polyline points="210.5,80.1 211.6,79.7 212.9,63 213.8,66.6 214.9,81.9 215.8,71 216.7,81.2 217.8,76.1 218.5,83.4 219.6,71 220.7,70.6 221.8,73.9 222.9,79.7 223.6,73.2 224.7,72.4 225.8,82.7 226.9,81.9 228,83.4 229.1,79.7 230.5,55.6 231.3,63 232,66.6 232.7,65.1 233.8,78.3 234.6,66.6 235.7,76.1 236.8,68.1 237.8,74.6 238.6,76.8 239.7,73.9 240.8,65.5 241.5,66.6 242.6,76.1 243.7,66.6 244.8,67.3 245.5,70.2 246.2,56.4 247.3,57.1 248.8,65.1 250.3,69.5 251.1,82.4 252.7,71.7 253.4,72.5 254.6,79.3 256.8,80.9 259.1,80.9 260.6,76.3 261.4,82.4 262.5,74 263.7,82.4 265.2,77.1 266.3,77.1 267.5,77.1 269.4,67.9 270.5,68.7 272,74.8 273.5,80.1 275.1,83.1 276.6,82.4 278.1,74 279.2,81.6 280.4,77.8 281.5,74 282.6,81.6 283.8,74.8 284.9,82.4 286.1,74 287.2,82.4 288.7,83.1 290.2,69.5 291.4,67.9 292.5,70.2 293.7,70.2 294.8,77.1" fill="none" stroke="#878787" stroke-width="1.6" stroke-linejoin="round"/>
<rect x="515" y="54.5" width="91.5" height="30.7" fill="#fff" stroke="#222" stroke-width="1"/>
<path d="M512,57.4H515" stroke="#222" stroke-width="0.8"/>
<text x="507.2" y="60.4" font-size="8.4" text-anchor="end" fill="#222" stroke="#222" stroke-width="0.12" textLength="8.6" lengthAdjust="spacingAndGlyphs" >13</text>
<path d="M512,83.6H515" stroke="#222" stroke-width="0.8"/>
<text x="507.2" y="86.6" font-size="8.4" text-anchor="end" fill="#222" stroke="#222" stroke-width="0.12" >0</text>
<polyline points="518.6,71.3 519.3,69.5 520.4,62.2 521.1,56.4 522.2,57.1 522.9,66.6 524,70.2 525.1,77.5 526.2,73.9 527.3,68.1 528.4,63 529.5,72.4 531.3,78.3 532.4,68.8 533.9,61.5 535,64.4 536.1,71 537.5,76.8 538.6,70.2 539.7,68.8 541.2,76.1 542.7,77.5 543.4,83.4 544.8,79.7 545.9,83.4 547,71 547.8,74.6 548.9,64.4 550,65.9 551.4,68.1 552.5,72.4 553.2,83.4 554.3,78.3 555.4,76.1 556.2,73.2 557.3,77.5 558.4,83.4 559.5,83.1 561,74.8 562.6,67.9 564.1,70.2 565.2,74.8 566.4,77.1 567.5,82.4 568.6,80.9 570.1,79.3 571.7,78.6 573.2,74 574.3,83.1 575.5,74 577,81.6 578.5,76.3 580,71.7 581.2,74.8 582.7,83.1 584.2,69.5 585.3,68.7 586.5,75.5 587.6,77.1 589.1,78.6 590.3,82.4 591.8,71.7 592.9,82.4 594.4,82.4 595.9,77.8 597.5,78.6 599,83.1 600.5,80.1 602,80.9" fill="none" stroke="#878787" stroke-width="1.6" stroke-linejoin="round"/>
<rect x="207.2" y="198.5" width="91.6" height="30.8" fill="#fff" stroke="#222" stroke-width="1"/>
<path d="M204.2,200.9H207.2" stroke="#222" stroke-width="0.8"/>
<text x="199.4" y="203.9" font-size="8.4" text-anchor="end" fill="#222" stroke="#222" stroke-width="0.12" textLength="13.2" lengthAdjust="spacingAndGlyphs" >387</text>
<path d="M204.2,229.2H207.2" stroke="#222" stroke-width="0.8"/>
<text x="199.4" y="232.2" font-size="8.4" text-anchor="end" fill="#222" stroke="#222" stroke-width="0.12" textLength="13.2" lengthAdjust="spacingAndGlyphs" >368</text>
<polyline points="210.8,212.1 211.9,209.9 213,211.7 213.8,212.8 214.5,203.3 215.2,206.2 216.3,207.7 217.4,208.4 218.5,212.8 219.6,223.7 220.3,224.5 221.4,220.1 222.5,213.5 223.6,209.9 224.7,208.4 226.2,206.6 227.3,209.1 228.4,212.8 229.1,219.4 230.2,213.5 230.9,206.9 232,207.7 233.1,202.6 234.2,199.6 234.9,209.1 236,205.5 237.1,208.4 238.2,205.5 239.3,210.6 240.4,208.8 241.5,211.3 242.6,217.9 243.7,212.8 244.8,218.6 245.9,211.7 247,215 248.1,212.1 248.8,206.9 249.9,211.3 251,215 251.5,221.1 253,218.8 254.2,223.3 255.3,227.1 256.5,222.6 257.6,219.5 258.7,212.7 259.5,207 260.6,211.2 261.4,212.7 262.1,203.6 263.3,207.4 264.4,208.1 265.6,210.4 266.7,208.1 268.2,205.9 269.4,212.7 270.5,209.7 271.6,215 272.4,206.6 273.5,212.7 274.7,208.1 276.2,215.7 277.3,210.4 278.9,212.7 280,218.8 281.1,213.5 282.3,217.3 283.4,217.3 284.5,218.8 285.7,211.2 286.8,205.1 288.3,202.8 289.5,206.6 290.6,208.9 291.8,211.2 292.9,209.7 294,208.1 294.8,205.9" fill="none" stroke="#878787" stroke-width="1.6" stroke-linejoin="round"/>
<rect x="514.8" y="198.5" width="91.8" height="30.7" fill="#fff" stroke="#222" stroke-width="1"/>
<path d="M511.8,201.5H514.8" stroke="#222" stroke-width="0.8"/>
<text x="507.2" y="204.5" font-size="8.4" text-anchor="end" fill="#222" stroke="#222" stroke-width="0.12" textLength="8.6" lengthAdjust="spacingAndGlyphs" >17</text>
<path d="M511.8,228.2H514.8" stroke="#222" stroke-width="0.8"/>
<text x="507.2" y="231.2" font-size="8.4" text-anchor="end" fill="#222" stroke="#222" stroke-width="0.12" >0</text>
<polyline points="518.2,212.8 519.3,214.2 520.4,211.3 521.5,210.6 522.6,216.4 523.3,220.1 524.4,210.6 525.5,210.6 526.6,215 527.7,218.6 528.4,220.8 529.5,217.9 530.6,215 531.7,209.9 533.2,208.4 533.9,204 534.6,206.2 535.4,202.6 536.5,205.5 537.2,204 537.9,210.6 539,217.2 540.1,223.7 541.2,223 542.3,215.7 543.4,217.9 544.5,223 545.6,222.3 546.7,222.3 547.8,215 548.9,215.7 550,212.1 551.4,207.7 552.5,212.8 553.6,215.7 554.7,219.4 555.4,226.7 556.5,223 558,220.1 559.5,215.7 561,217.3 562.6,214.2 564.1,212.7 565.2,205.9 566.4,201.3 567.1,199.8 567.9,203.6 569,209.7 570.1,207.4 571.3,211.2 572.4,208.9 573.6,208.1 574.7,212.7 576.2,215 577.4,209.7 578.5,205.9 579.6,207.4 580.8,211.2 581.9,215 583.4,217.3 584.6,211.2 585.3,215.7 586.5,205.9 588,202.8 589.1,205.1 590.3,206.6 591.4,212.7 592.5,206.6 593.7,202.8 594.8,204.3 596,211.2 597.5,215 599,216.5 600.5,220.3 602,224.8 602.8,227.1" fill="none" stroke="#878787" stroke-width="1.6" stroke-linejoin="round"/>
<text x="176.1" y="42.3" font-size="18.2" text-anchor="middle" fill="#000" stroke="#000" stroke-width="0.22" textLength="33.2" lengthAdjust="spacingAndGlyphs" >GrC</text>
<text x="486.5" y="43.7" font-size="18.2" text-anchor="middle" fill="#000" stroke="#000" stroke-width="0.22" textLength="37.3" lengthAdjust="spacingAndGlyphs" >GoC</text>
<text x="180.6" y="194.4" font-size="18.5" text-anchor="middle" fill="#000" stroke="#000" stroke-width="0.22" textLength="30" lengthAdjust="spacingAndGlyphs" >MLI</text>
<text x="486.6" y="196.7" font-size="18.2" text-anchor="middle" fill="#000" stroke="#000" stroke-width="0.22" textLength="25.6" lengthAdjust="spacingAndGlyphs" >PC</text>
<rect x="563.4" y="158.4" width="87.5" height="32.5" fill="#fff" stroke="#d4d4d4" stroke-width="1"/>
<path d="M568.7,174.6H581.5" stroke="#7f7f7f" stroke-width="2"/>
<text x="583.9" y="179" font-size="13" text-anchor="start" fill="#222" stroke="#222" stroke-width="0.22" textLength="59.7" lengthAdjust="spacingAndGlyphs" >Left Crus II</text>
<text x="0.6" y="26.1" font-size="35" text-anchor="start" fill="#000" stroke="#000" stroke-width="0.22" textLength="23.6" lengthAdjust="spacingAndGlyphs" >A</text>
<text x="7.6" y="359.9" font-size="35" text-anchor="start" fill="#000" stroke="#000" stroke-width="0.22" textLength="23.5" lengthAdjust="spacingAndGlyphs" >B</text>
<text x="7.4" y="634.4" font-size="36" text-anchor="start" fill="#000" stroke="#000" stroke-width="0.22" textLength="25.5" lengthAdjust="spacingAndGlyphs" >C</text>
<g>
<clipPath id="sil0"><polygon points="156.3,471.3 154.7,474 154.2,478.5 153.6,483.9 152.4,488.5 150.9,493 149.5,497.5 148.4,505 147.1,513.7 145.7,520.9 141.3,531.1 135.5,541.3 128.2,550 123.8,555.9 121.5,560.5 119.5,558 115,554.5 110.7,548.6 105,549.6 101.9,550.2 97,551.5 94.6,551.5 90.5,548.5 88.4,545 89,542.5 91.7,540.8 95,541.2 99,542.8 104,544 108,544.6 103,539.7 96,536.5 90.2,531.1 85.8,524.5 82.9,518.5 81,510 81,499 82,489 82.3,482 81.5,474.5 79,468.8 76,464.2 71.7,460.1 67.3,455.7 65.8,451.3 66.6,446.9 70.2,441.1 77.5,436.7 86.3,433.8 96.5,432.6 108.2,432.3 109.6,428 108.9,423.6 109.6,419.2 110.3,408.3 113.8,405.6 118.1,403.4 122.5,402 129.5,400.3 134,399.6 138.3,398.8 143,399.2 147.6,399.5 152.6,399.2 156,399 158.5,398 160,396.5 160.6,394.5 161,392.6 161.4,394.5 162,396.5 163.5,398 166.6,399.3 170,399 178.8,398.4 189.2,400.2 198,404.6 206.8,409.5 208.9,413.4 210.4,420.7 211.8,426.5 214,430.9 218.4,432 230,433.6 241.8,434.4 247.6,436.7 252,442.6 254.9,448.4 255.6,451.3 253.4,455.7 247.6,461.5 243.2,465.9 240.3,470.3 238.8,477 237.5,484.6 238.2,491.9 239.7,506.5 239.7,518.2 236.8,526.9 232.4,531.3 226.5,537.2 217.8,543 214.9,545.2 219.2,544.3 224,543.1 228,542.9 231.5,543.7 233.5,545.5 233.8,548.8 232,551.5 228,553.3 224,552.7 220.7,551 216.3,548.8 213.4,548.8 210.5,550.3 204.6,554.7 201.7,557.6 199.5,561.2 197.3,556.1 194.4,553.2 190,547.4 184.2,538.6 180,531 178.7,525.5 177.1,517.6 173.9,509.7 172.5,505 171.2,497.5 169.8,493 168.5,488.5 167.1,483.9 166.2,478.5 165.7,474 164.4,471.3 161.9,474 161.7,478.5 161.9,483.9 163,487.6 163.9,492 164.8,496.6 165.3,502 166.2,507.4 165.6,513.7 166.4,516.8 167.2,520.8 163.7,523.9 162.1,527.9 160.9,534.2 161.3,539.7 161.7,543.6 162.9,546.8 164.1,550 163.7,553.1 161.3,555.1 158.1,554.7 155.8,552.3 155.4,548.4 157,543.6 158.1,538.9 158.5,534.2 157.8,529.4 157.4,523.9 155.8,521.6 154.6,520 155.4,513.7 154.6,505.8 154.2,501 154.5,496.6 155.1,491.2 156.7,487.6 158.1,483.9 158.5,478.5 158.1,473.1"/></clipPath>
<g clip-path="url(#sil0)">
<polygon points="60,380 60,600 157.5,600 157.5,380" fill="#2420e6"/>
<polygon points="60,600 60,548 110.3,542.6 119,532.4 127.8,526.5 140.9,525.1 157.5,524.5 157.5,600" fill="#2016d6"/>
<polygon points="60,380 60,521 83,520 88.4,519.2 98.6,516.3 108.8,514.9 123.4,517 138,520.7 144.6,522.2 157.5,522 157.5,380" fill="#3452ee"/>
<polygon points="60,380 60,509 81,509 88.4,503.2 98.6,499.5 113.2,501 127.8,505.4 140.9,509.7 146.8,507.6 157.5,505 157.5,380" fill="#3f68f0"/>
<polygon points="60,380 60,490 82,490 85.4,490 89.8,487.8 101.5,488.6 116.1,492.2 130.7,495.1 140.9,498.1 146.8,494.4 157.5,490 157.5,380" fill="#4a82f2"/>
<polygon points="60,380 60,465 79.6,466 86,467.5 94.2,469.6 101,471 108.8,471.8 116,471.2 123.4,470.3 130,469.5 138,468.9 145,469.3 152.6,470.3 157.5,472 157.5,380" fill="#4f8ff7"/>
<polygon points="164,380 164,600 262,600 262,380" fill="#2820e8"/>
<polygon points="164,600 164,527 179.8,528.4 195.9,529.9 210.5,534.2 225,538.6 245,545 245,600" fill="#1e14d2"/>
<polygon points="262,380 262,532 232.4,525.5 220.7,519.6 206.1,517.4 191.5,518.3 176.9,519.8 164,519 164,380" fill="#78f6ef"/>
<polygon points="262,380 262,520 238.2,513.8 230.9,505 220.7,503.6 207.6,505 195.9,509.4 184.2,512.3 171.1,503.6 164,498 164,380" fill="#76f1dc"/>
<polygon points="262,380 262,505 238.2,499.2 232.4,491.9 222.2,489 210.5,490.4 198.8,494.8 187.1,499.2 176.9,496.3 168.1,489 164,485 164,380" fill="#7af7f3"/>
<polygon points="262,380 262,476 239.6,473.2 225.7,470.3 211.1,470 196.5,470.7 181.9,471 166.6,471.8 164,472 164,380" fill="#79f7cb"/>
<polygon points="86,539 109,543.5 109,553 86,553" fill="#4868f2"/>
<polygon points="214.5,541 236,541 236,555 214.5,555" fill="#4a8ef0"/>
<polygon points="60,380 60,428 100,428 108.2,433 116,439.5 124,445.5 133,449.8 141,454.5 148,459.8 153,465 156,470.5 157,476 160.8,478 165,476 166,468.5 168.5,464 174,459.5 182,454 192,447.8 200.5,442.5 208.5,435.7 218,431.6 222,428 262,428 262,380" fill="#1e0cbe"/>
<polygon points="160.8,380 160.8,478 165,476 166,468.5 168.5,464 174,459.5 182,454 192,447.8 200.5,442.5 208.5,435.7 218,431.6 222,428 262,428 262,380" fill="#2a0cec"/>
<polygon points="153.4,440.4 160.6,440.6 167.2,439.8 166.6,471.5 153.8,471.5" fill="#1e0cb4"/>
<clipPath id="hl0"><rect x="60" y="380" width="100.8" height="120"/></clipPath>
<clipPath id="hr0"><rect x="160.8" y="380" width="101.2" height="120"/></clipPath>
<polygon points="104,380 104,404 111,409.3 118.1,412.6 126.9,417.2 135.5,422 142.5,427.5 148,432.5 151.5,437.2 155.8,440.7 161,440.8 167,440 174.9,433.9 183.7,426.8 192.5,419.8 201.2,411.1 205,407.6 210,403 210,380" fill="#2a16f0"/>
<polygon points="104,380 104,404 111,409.3 118.1,412.6 126.9,417.2 135.5,422 142.5,427.5 148,432.5 151.5,437.2 155.8,440.7 161,440.8 167,440 174.9,433.9 183.7,426.8 192.5,419.8 201.2,411.1 205,407.6 210,403 210,380" fill="#2a1ce4" clip-path="url(#hr0)"/>
<polygon points="108,380 108,401.5 113.8,404.8 122.5,406.5 131.3,408.8 140,412 147,416 152,420 156.5,423 161,424 166,422.5 170,420.5 176.6,417 184.8,411.5 193,406.5 197,403.5 203,398 203,380" fill="#3a4af2"/>
<polygon points="108,380 108,401.5 113.8,404.8 122.5,406.5 131.3,408.8 140,412 147,416 152,420 156.5,423 161,424 166,422.5 170,420.5 176.6,417 184.8,411.5 193,406.5 197,403.5 203,398 203,380" fill="#3846f0" clip-path="url(#hr0)"/>
<polyline points="100,428 108.2,433 116,439.5 124,445.5 133,449.8 141,454.5 148,459.8 153,465 156,470.5 157,476" fill="none" stroke="#0a0a20" stroke-width="1.05" stroke-dasharray="1.1 0.8" opacity="0.85"/>
<polyline points="222,428 218,431.6 208.5,435.7 200.5,442.5 192,447.8 182,454 174,459.5 168.5,464 166,468.5 165,476" fill="none" stroke="#0a0a20" stroke-width="1.05" stroke-dasharray="1.1 0.8" opacity="0.85"/>
<polyline points="70,465 79.6,466 86,467.5 94.2,469.6 101,471 108.8,471.8 116,471.2 123.4,470.3 130,469.5 138,468.9 145,469.3 152.6,470.3 158,472" fill="none" stroke="#0a0a20" stroke-width="1.05" stroke-dasharray="1.1 0.8" opacity="0.85"/>
<polyline points="70,490 82,490 85.4,490 89.8,487.8 101.5,488.6 116.1,492.2 130.7,495.1 140.9,498.1 146.8,494.4 158,490" fill="none" stroke="#0a0a20" stroke-width="1.05" stroke-dasharray="1.1 0.8" opacity="0.85"/>
<polyline points="70,509 81,509 88.4,503.2 98.6,499.5 113.2,501 127.8,505.4 140.9,509.7 146.8,507.6 158,505" fill="none" stroke="#0a0a20" stroke-width="1.05" stroke-dasharray="1.1 0.8" opacity="0.85"/>
<polyline points="70,521 83,520 88.4,519.2 98.6,516.3 108.8,514.9 123.4,517 138,520.7 144.6,522.2 158,522" fill="none" stroke="#0a0a20" stroke-width="1.05" stroke-dasharray="1.1 0.8" opacity="0.85"/>
<polyline points="160,472 166.6,471.8 181.9,471 196.5,470.7 211.1,470 225.7,470.3 239.6,473.2 250,476" fill="none" stroke="#0a0a20" stroke-width="1.05" stroke-dasharray="1.1 0.8" opacity="0.85"/>
<polyline points="160,485 168.1,489 176.9,496.3 187.1,499.2 198.8,494.8 210.5,490.4 222.2,489 232.4,491.9 238.2,499.2 250,505" fill="none" stroke="#0a0a20" stroke-width="1.05" stroke-dasharray="1.1 0.8" opacity="0.85"/>
<polyline points="160,498 171.1,503.6 184.2,512.3 195.9,509.4 207.6,505 220.7,503.6 230.9,505 238.2,513.8 250,520" fill="none" stroke="#0a0a20" stroke-width="1.05" stroke-dasharray="1.1 0.8" opacity="0.85"/>
<polyline points="165,519 176.9,519.8 191.5,518.3 206.1,517.4 220.7,519.6 232.4,525.5 245,532" fill="none" stroke="#0a0a20" stroke-width="1.05" stroke-dasharray="1.1 0.8" opacity="0.85"/>
<polyline points="106,548 110.3,542.6 119,532.4 127.8,526.5 140.9,525.1 150,524.5" fill="none" stroke="#0a0a20" stroke-width="1.05" stroke-dasharray="1.1 0.8" opacity="0.85"/>
<polyline points="175,527 179.8,528.4 195.9,529.9 210.5,534.2 225,538.6 232,541" fill="none" stroke="#0a0a20" stroke-width="1.05" stroke-dasharray="1.1 0.8" opacity="0.85"/>
<clipPath id="st0"><polygon points="156.3,471.3 160.3,470.8 164.4,471.3 161.9,474 161.7,478.5 161.9,483.9 163,487.6 163.9,492 164.8,496.6 165.3,502 166.2,507.4 165.6,513.7 166.4,516.8 167.2,520.8 163.7,523.9 162.1,527.9 160.9,534.2 161.3,539.7 161.7,543.6 162.9,546.8 164.1,550 163.7,553.1 161.3,555.1 158.1,554.7 155.8,552.3 155.4,548.4 157,543.6 158.1,538.9 158.5,534.2 157.8,529.4 157.4,523.9 155.8,521.6 154.6,520 155.4,513.7 154.6,505.8 154.2,501 154.5,496.6 155.1,491.2 156.7,487.6 158.1,483.9 158.5,478.5 158.1,473.1"/></clipPath>
<polygon points="156.3,471.3 160.3,470.8 164.4,471.3 161.9,474 161.7,478.5 161.9,483.9 163,487.6 163.9,492 164.8,496.6 165.3,502 166.2,507.4 165.6,513.7 166.4,516.8 167.2,520.8 163.7,523.9 162.1,527.9 160.9,534.2 161.3,539.7 161.7,543.6 162.9,546.8 164.1,550 163.7,553.1 161.3,555.1 158.1,554.7 155.8,552.3 155.4,548.4 157,543.6 158.1,538.9 158.5,534.2 157.8,529.4 157.4,523.9 155.8,521.6 154.6,520 155.4,513.7 154.6,505.8 154.2,501 154.5,496.6 155.1,491.2 156.7,487.6 158.1,483.9 158.5,478.5 158.1,473.1" fill="#1e0cb4"/>
<g clip-path="url(#st0)">
<polygon points="150,468 170,468 170,486.5 150,486.5" fill="#2614e6"/>
<polygon points="150,486.5 170,486.5 170,513.6 150,513.6" fill="#1e0cb4"/>
<polygon points="150,513.6 170,513.6 170,560 150,560" fill="#2414e2"/>
</g>
<polygon points="104,396 104,412 110.6,410.2 113.8,407.6 118.1,405.4 122.5,404 129.5,402.3 138.3,400.6 142,399.5 143,394" fill="#14108a"/>
<polygon points="175,394 177,400.2 183.8,400.6 191,402.4 197.6,405.8 204.7,409.6 209,413 214,396" fill="#14108a"/>
<polyline points="108,401.5 113.8,404.8 122.5,406.5 131.3,408.8 140,412 147,416 152,420 156.5,423 161,424 166,422.5 170,420.5 176.6,417 184.8,411.5 193,406.5 197,403.5 203,398" fill="none" stroke="#10104a" stroke-width="1.3" stroke-dasharray="none" opacity="0.9"/>
<polyline points="104,404 111,409.3 118.1,412.6 126.9,417.2 135.5,422 142.5,427.5 148,432.5 151.5,437.2 155.8,440.7 161,440.8 167,440 174.9,433.9 183.7,426.8 192.5,419.8 201.2,411.1 205,407.6 210,403" fill="none" stroke="#10104a" stroke-width="1.3" stroke-dasharray="none" opacity="0.9"/>
<path d="M154,513.6H167" stroke="#101050" stroke-width="0.9" opacity="0.6"/>
</g>
</g>
<g transform="translate(312.4,2.2)">
<clipPath id="sil1"><polygon points="156.3,471.3 154.7,474 154.2,478.5 153.6,483.9 152.4,488.5 150.9,493 149.5,497.5 148.4,505 147.1,513.7 145.7,520.9 141.3,531.1 135.5,541.3 128.2,550 123.8,555.9 121.5,560.5 119.5,558 115,554.5 110.7,548.6 105,549.6 101.9,550.2 97,551.5 94.6,551.5 90.5,548.5 88.4,545 89,542.5 91.7,540.8 95,541.2 99,542.8 104,544 108,544.6 103,539.7 96,536.5 90.2,531.1 85.8,524.5 82.9,518.5 81,510 81,499 82,489 82.3,482 81.5,474.5 79,468.8 76,464.2 71.7,460.1 67.3,455.7 65.8,451.3 66.6,446.9 70.2,441.1 77.5,436.7 86.3,433.8 96.5,432.6 108.2,432.3 109.6,428 108.9,423.6 109.6,419.2 110.3,408.3 113.8,405.6 118.1,403.4 122.5,402 129.5,400.3 134,399.6 138.3,398.8 143,399.2 147.6,399.5 152.6,399.2 156,399 158.5,398 160,396.5 160.6,394.5 161,392.6 161.4,394.5 162,396.5 163.5,398 166.6,399.3 170,399 178.8,398.4 189.2,400.2 198,404.6 206.8,409.5 208.9,413.4 210.4,420.7 211.8,426.5 214,430.9 218.4,432 230,433.6 241.8,434.4 247.6,436.7 252,442.6 254.9,448.4 255.6,451.3 253.4,455.7 247.6,461.5 243.2,465.9 240.3,470.3 238.8,477 237.5,484.6 238.2,491.9 239.7,506.5 239.7,518.2 236.8,526.9 232.4,531.3 226.5,537.2 217.8,543 214.9,545.2 219.2,544.3 224,543.1 228,542.9 231.5,543.7 233.5,545.5 233.8,548.8 232,551.5 228,553.3 224,552.7 220.7,551 216.3,548.8 213.4,548.8 210.5,550.3 204.6,554.7 201.7,557.6 199.5,561.2 197.3,556.1 194.4,553.2 190,547.4 184.2,538.6 180,531 178.7,525.5 177.1,517.6 173.9,509.7 172.5,505 171.2,497.5 169.8,493 168.5,488.5 167.1,483.9 166.2,478.5 165.7,474 164.4,471.3 161.9,474 161.7,478.5 161.9,483.9 163,487.6 163.9,492 164.8,496.6 165.3,502 166.2,507.4 165.6,513.7 166.4,516.8 167.2,520.8 163.7,523.9 162.1,527.9 160.9,534.2 161.3,539.7 161.7,543.6 162.9,546.8 164.1,550 163.7,553.1 161.3,555.1 158.1,554.7 155.8,552.3 155.4,548.4 157,543.6 158.1,538.9 158.5,534.2 157.8,529.4 157.4,523.9 155.8,521.6 154.6,520 155.4,513.7 154.6,505.8 154.2,501 154.5,496.6 155.1,491.2 156.7,487.6 158.1,483.9 158.5,478.5 158.1,473.1"/></clipPath>
<g clip-path="url(#sil1)">
<polygon points="60,380 60,600 157.5,600 157.5,380" fill="#2414ee"/>
<polygon points="60,600 60,548 110.3,542.6 119,532.4 127.8,526.5 140.9,525.1 157.5,524.5 157.5,600" fill="#2414ea"/>
<polygon points="60,380 60,521 83,520 88.4,519.2 98.6,516.3 108.8,514.9 123.4,517 138,520.7 144.6,522.2 157.5,522 157.5,380" fill="#4d8cf4"/>
<polygon points="60,380 60,509 81,509 88.4,503.2 98.6,499.5 113.2,501 127.8,505.4 140.9,509.7 146.8,507.6 157.5,505 157.5,380" fill="#3346f0"/>
<polygon points="60,380 60,484 88.7,484 101.1,487.6 115.7,491.3 125.9,494.2 137.6,500.1 143.4,503 149.3,494.2 157.5,490 157.5,380" fill="#93ee7d"/>
<polygon points="60,380 60,465 79.6,466 86,467.5 94.2,469.6 101,471 108.8,471.8 116,471.2 123.4,470.3 130,469.5 138,468.9 145,469.3 152.6,470.3 157.5,472 157.5,380" fill="#e3f23a"/>
<polygon points="164,380 164,600 262,600 262,380" fill="#2414ee"/>
<polygon points="164,600 164,527 179.8,528.4 195.9,529.9 210.5,534.2 225,538.6 245,545 245,600" fill="#2414ea"/>
<polygon points="262,380 262,532 232.4,525.5 220.7,519.6 206.1,517.4 191.5,518.3 176.9,519.8 164,519 164,380" fill="#70eeee"/>
<polygon points="262,380 262,520 238.2,513.8 230.9,505 220.7,503.6 207.6,505 195.9,509.4 184.2,512.3 171.1,503.6 164,498 164,380" fill="#76f2de"/>
<polygon points="262,380 262,505 238.2,499.2 232.4,491.9 222.2,489 210.5,490.4 198.8,494.8 187.1,499.2 176.9,496.3 168.1,489 164,485 164,380" fill="#def43c"/>
<polygon points="262,380 262,476 239.6,473.2 225.7,470.3 211.1,470 196.5,470.7 181.9,471 166.6,471.8 164,472 164,380" fill="#f5641e"/>
<polygon points="86,539 109,543.5 109,553 86,553" fill="#2414ee"/>
<polygon points="214.5,541 236,541 236,555 214.5,555" fill="#2414ee"/>
<polygon points="60,380 60,428 100,428 108.2,433 116,439.5 124,445.5 133,449.8 141,454.5 148,459.8 153,465 156,470.5 157,476 160.8,478 165,476 166,468.5 168.5,464 174,459.5 182,454 192,447.8 200.5,442.5 208.5,435.7 218,431.6 222,428 262,428 262,380" fill="#47a0f2"/>
<polygon points="160.8,380 160.8,478 165,476 166,468.5 168.5,464 174,459.5 182,454 192,447.8 200.5,442.5 208.5,435.7 218,431.6 222,428 262,428 262,380" fill="#47a0f2"/>
<polygon points="153.4,440.4 160.6,440.6 167.2,439.8 166.6,471.5 153.8,471.5" fill="#55ecf8"/>
<clipPath id="hl1"><rect x="60" y="380" width="100.8" height="120"/></clipPath>
<clipPath id="hr1"><rect x="160.8" y="380" width="101.2" height="120"/></clipPath>
<polygon points="104,380 104,404 111,409.3 118.1,412.6 126.9,417.2 135.5,422 142.5,427.5 148,432.5 151.5,437.2 155.8,440.7 161,440.8 167,440 174.9,433.9 183.7,426.8 192.5,419.8 201.2,411.1 205,407.6 210,403 210,380" fill="#bcf246"/>
<polygon points="104,380 104,404 111,409.3 118.1,412.6 126.9,417.2 135.5,422 142.5,427.5 148,432.5 151.5,437.2 155.8,440.7 161,440.8 167,440 174.9,433.9 183.7,426.8 192.5,419.8 201.2,411.1 205,407.6 210,403 210,380" fill="#bcf246" clip-path="url(#hr1)"/>
<polygon points="108,380 108,401.5 113.8,404.8 122.5,406.5 131.3,408.8 140,412 147,416 152,420 156.5,423 161,424 166,422.5 170,420.5 176.6,417 184.8,411.5 193,406.5 197,403.5 203,398 203,380" fill="#ebe137"/>
<polygon points="108,380 108,401.5 113.8,404.8 122.5,406.5 131.3,408.8 140,412 147,416 152,420 156.5,423 161,424 166,422.5 170,420.5 176.6,417 184.8,411.5 193,406.5 197,403.5 203,398 203,380" fill="#e6f43c" clip-path="url(#hr1)"/>
<polyline points="100,428 108.2,433 116,439.5 124,445.5 133,449.8 141,454.5 148,459.8 153,465 156,470.5 157,476" fill="none" stroke="#0a0a20" stroke-width="1.05" stroke-dasharray="1.1 0.8" opacity="0.85"/>
<polyline points="222,428 218,431.6 208.5,435.7 200.5,442.5 192,447.8 182,454 174,459.5 168.5,464 166,468.5 165,476" fill="none" stroke="#0a0a20" stroke-width="1.05" stroke-dasharray="1.1 0.8" opacity="0.85"/>
<polyline points="70,465 79.6,466 86,467.5 94.2,469.6 101,471 108.8,471.8 116,471.2 123.4,470.3 130,469.5 138,468.9 145,469.3 152.6,470.3 158,472" fill="none" stroke="#0a0a20" stroke-width="1.05" stroke-dasharray="1.1 0.8" opacity="0.85"/>
<polyline points="70,490 82,490 85.4,490 89.8,487.8 101.5,488.6 116.1,492.2 130.7,495.1 140.9,498.1 146.8,494.4 158,490" fill="none" stroke="#0a0a20" stroke-width="1.05" stroke-dasharray="1.1 0.8" opacity="0.85"/>
<polyline points="70,509 81,509 88.4,503.2 98.6,499.5 113.2,501 127.8,505.4 140.9,509.7 146.8,507.6 158,505" fill="none" stroke="#0a0a20" stroke-width="1.05" stroke-dasharray="1.1 0.8" opacity="0.85"/>
<polyline points="70,521 83,520 88.4,519.2 98.6,516.3 108.8,514.9 123.4,517 138,520.7 144.6,522.2 158,522" fill="none" stroke="#0a0a20" stroke-width="1.05" stroke-dasharray="1.1 0.8" opacity="0.85"/>
<polyline points="160,472 166.6,471.8 181.9,471 196.5,470.7 211.1,470 225.7,470.3 239.6,473.2 250,476" fill="none" stroke="#0a0a20" stroke-width="1.05" stroke-dasharray="1.1 0.8" opacity="0.85"/>
<polyline points="160,485 168.1,489 176.9,496.3 187.1,499.2 198.8,494.8 210.5,490.4 222.2,489 232.4,491.9 238.2,499.2 250,505" fill="none" stroke="#0a0a20" stroke-width="1.05" stroke-dasharray="1.1 0.8" opacity="0.85"/>
<polyline points="160,498 171.1,503.6 184.2,512.3 195.9,509.4 207.6,505 220.7,503.6 230.9,505 238.2,513.8 250,520" fill="none" stroke="#0a0a20" stroke-width="1.05" stroke-dasharray="1.1 0.8" opacity="0.85"/>
<polyline points="165,519 176.9,519.8 191.5,518.3 206.1,517.4 220.7,519.6 232.4,525.5 245,532" fill="none" stroke="#0a0a20" stroke-width="1.05" stroke-dasharray="1.1 0.8" opacity="0.85"/>
<polyline points="106,548 110.3,542.6 119,532.4 127.8,526.5 140.9,525.1 150,524.5" fill="none" stroke="#0a0a20" stroke-width="1.05" stroke-dasharray="1.1 0.8" opacity="0.85"/>
<polyline points="175,527 179.8,528.4 195.9,529.9 210.5,534.2 225,538.6 232,541" fill="none" stroke="#0a0a20" stroke-width="1.05" stroke-dasharray="1.1 0.8" opacity="0.85"/>
<clipPath id="st1"><polygon points="156.3,471.3 160.3,470.8 164.4,471.3 161.9,474 161.7,478.5 161.9,483.9 163,487.6 163.9,492 164.8,496.6 165.3,502 166.2,507.4 165.6,513.7 166.4,516.8 167.2,520.8 163.7,523.9 162.1,527.9 160.9,534.2 161.3,539.7 161.7,543.6 162.9,546.8 164.1,550 163.7,553.1 161.3,555.1 158.1,554.7 155.8,552.3 155.4,548.4 157,543.6 158.1,538.9 158.5,534.2 157.8,529.4 157.4,523.9 155.8,521.6 154.6,520 155.4,513.7 154.6,505.8 154.2,501 154.5,496.6 155.1,491.2 156.7,487.6 158.1,483.9 158.5,478.5 158.1,473.1"/></clipPath>
<polygon points="156.3,471.3 160.3,470.8 164.4,471.3 161.9,474 161.7,478.5 161.9,483.9 163,487.6 163.9,492 164.8,496.6 165.3,502 166.2,507.4 165.6,513.7 166.4,516.8 167.2,520.8 163.7,523.9 162.1,527.9 160.9,534.2 161.3,539.7 161.7,543.6 162.9,546.8 164.1,550 163.7,553.1 161.3,555.1 158.1,554.7 155.8,552.3 155.4,548.4 157,543.6 158.1,538.9 158.5,534.2 157.8,529.4 157.4,523.9 155.8,521.6 154.6,520 155.4,513.7 154.6,505.8 154.2,501 154.5,496.6 155.1,491.2 156.7,487.6 158.1,483.9 158.5,478.5 158.1,473.1" fill="#2414ee"/>
<g clip-path="url(#st1)">
<polygon points="150,468 170,468 170,486.5 150,486.5" fill="#55e4f4"/>
<polygon points="150,486.5 170,486.5 170,513.6 150,513.6" fill="#2414ee"/>
<polygon points="150,513.6 170,513.6 170,560 150,560" fill="#2414ee"/>
</g>
<polygon points="104,396 104,413 110.9,410.2 114.4,408.3 118.7,407 127.5,405.3 136.3,402.6 141.5,399.6 143,394" fill="#14148c"/>
<polygon points="175,394 176.7,399.8 183.8,400.9 191,403 197.6,406.6 204.7,410.1 209,413 214,396" fill="#14148c"/>
<polyline points="108,401.5 113.8,404.8 122.5,406.5 131.3,408.8 140,412 147,416 152,420 156.5,423 161,424 166,422.5 170,420.5 176.6,417 184.8,411.5 193,406.5 197,403.5 203,398" fill="none" stroke="#0a0a20" stroke-width="1.05" stroke-dasharray="1.1 0.8" opacity="0.85"/>
<polyline points="104,404 111,409.3 118.1,412.6 126.9,417.2 135.5,422 142.5,427.5 148,432.5 151.5,437.2 155.8,440.7 161,440.8 167,440 174.9,433.9 183.7,426.8 192.5,419.8 201.2,411.1 205,407.6 210,403" fill="none" stroke="#0a0a20" stroke-width="1.05" stroke-dasharray="1.1 0.8" opacity="0.85"/>
<path d="M154,513.6H167" stroke="#101050" stroke-width="0.9" opacity="0.6"/>
</g>
</g>
<defs><linearGradient id="jet" x1="0" y1="1" x2="0" y2="0">
<stop offset="0" stop-color="#181078"/>
<stop offset="0.06" stop-color="#1414c8"/>
<stop offset="0.13" stop-color="#1414f0"/>
<stop offset="0.20" stop-color="#2444f0"/>
<stop offset="0.25" stop-color="#3c80f0"/>
<stop offset="0.29" stop-color="#4cacf0"/>
<stop offset="0.35" stop-color="#5cecf4"/>
<stop offset="0.42" stop-color="#6ef2c4"/>
<stop offset="0.51" stop-color="#84f088"/>
<stop offset="0.58" stop-color="#a4f060"/>
<stop offset="0.66" stop-color="#dcf040"/>
<stop offset="0.72" stop-color="#ecb830"/>
<stop offset="0.79" stop-color="#f07420"/>
<stop offset="0.88" stop-color="#f02414"/>
<stop offset="0.95" stop-color="#c01414"/>
<stop offset="1" stop-color="#8a1010"/>
</linearGradient></defs>
<rect x="265.3" y="417.6" width="12.6" height="120.5" fill="url(#jet)"/>
<path d="M277.9,538.1H280.4" stroke="#555" stroke-width="0.8"/>
<text x="284.2" y="540.2" font-size="11" text-anchor="start" fill="#3a3a3a" stroke="#3a3a3a" stroke-width="0.12" textLength="19.7" lengthAdjust="spacingAndGlyphs" >0.10</text>
<path d="M277.9,508H280.4" stroke="#555" stroke-width="0.8"/>
<text x="284.2" y="513.9" font-size="11" text-anchor="start" fill="#3a3a3a" stroke="#3a3a3a" stroke-width="0.12" textLength="19.7" lengthAdjust="spacingAndGlyphs" >0.33</text>
<path d="M277.9,477.9H280.4" stroke="#555" stroke-width="0.8"/>
<text x="284.2" y="482.8" font-size="11" text-anchor="start" fill="#3a3a3a" stroke="#3a3a3a" stroke-width="0.12" textLength="19.7" lengthAdjust="spacingAndGlyphs" >0.55</text>
<path d="M277.9,447.7H280.4" stroke="#555" stroke-width="0.8"/>
<text x="284.2" y="454" font-size="11" text-anchor="start" fill="#3a3a3a" stroke="#3a3a3a" stroke-width="0.12" textLength="19.7" lengthAdjust="spacingAndGlyphs" >0.78</text>
<path d="M277.9,417.6H280.4" stroke="#555" stroke-width="0.8"/>
<text x="284.2" y="424.7" font-size="11" text-anchor="start" fill="#3a3a3a" stroke="#3a3a3a" stroke-width="0.12" textLength="19.7" lengthAdjust="spacingAndGlyphs" >1.00</text>
<text x="316.2" y="474.7" font-size="13" text-anchor="middle" fill="#3a3a3a" stroke="#3a3a3a" stroke-width="0.22" textLength="25.5" lengthAdjust="spacingAndGlyphs" transform="rotate(90 316.2 474.7)" >MAE</text>
<rect x="577.3" y="419.8" width="12.2" height="119.9" fill="url(#jet)"/>
<path d="M589.5,539.7H592" stroke="#555" stroke-width="0.8"/>
<text x="595.3" y="541.8" font-size="11" text-anchor="start" fill="#3a3a3a" stroke="#3a3a3a" stroke-width="0.12" textLength="19.7" lengthAdjust="spacingAndGlyphs" >0.10</text>
<path d="M589.5,509.7H592" stroke="#555" stroke-width="0.8"/>
<text x="595.3" y="515.5" font-size="11" text-anchor="start" fill="#3a3a3a" stroke="#3a3a3a" stroke-width="0.12" textLength="19.7" lengthAdjust="spacingAndGlyphs" >0.33</text>
<path d="M589.5,479.8H592" stroke="#555" stroke-width="0.8"/>
<text x="595.3" y="484.4" font-size="11" text-anchor="start" fill="#3a3a3a" stroke="#3a3a3a" stroke-width="0.12" textLength="19.7" lengthAdjust="spacingAndGlyphs" >0.55</text>
<path d="M589.5,449.8H592" stroke="#555" stroke-width="0.8"/>
<text x="595.3" y="455.6" font-size="11" text-anchor="start" fill="#3a3a3a" stroke="#3a3a3a" stroke-width="0.12" textLength="19.7" lengthAdjust="spacingAndGlyphs" >0.78</text>
<path d="M589.5,419.8H592" stroke="#555" stroke-width="0.8"/>
<text x="595.3" y="426.3" font-size="11" text-anchor="start" fill="#3a3a3a" stroke="#3a3a3a" stroke-width="0.12" textLength="19.7" lengthAdjust="spacingAndGlyphs" >1.00</text>
<text x="625.2" y="477" font-size="13" text-anchor="middle" fill="#3a3a3a" stroke="#3a3a3a" stroke-width="0.22" textLength="25.5" lengthAdjust="spacingAndGlyphs" transform="rotate(90 625.2 477)" >MAE</text>
<text x="164.3" y="376.9" font-size="19.5" text-anchor="middle" fill="#000" stroke="#000" stroke-width="0.22" textLength="81" lengthAdjust="spacingAndGlyphs" >cMF-TVB</text>
<text x="475.2" y="383.6" font-size="19.5" text-anchor="middle" fill="#000" stroke="#000" stroke-width="0.22" textLength="37.6" lengthAdjust="spacingAndGlyphs" >TVB</text>
<polygon points="106.3,687.3 160.4,695.7 214.5,695.7 268.6,681.7 322.7,689.3 376.9,679.8 431,681.7 485.1,664.7 485.1,714 431,730.3 376.9,737.5 322.7,739.4 268.6,736.6 214.5,748.6 160.4,747.6 106.3,739.9" fill="#6ea5dc" fill-opacity="0.1"/>
<polygon points="106.3,764.1 160.4,742.7 214.5,758.1 268.6,731.5 322.7,752 376.9,739.4 431,759.5 485.1,715.9 485.1,750.1 431,783.5 376.9,769 322.7,777.4 268.6,766.1 214.5,781.9 160.4,775.6 106.3,789.6" fill="#def032" fill-opacity="0.2"/>
<polyline points="106.3,713.6 160.4,722.4 214.5,722.7 268.6,709.3 322.7,714.8 376.9,709.5 431,706.4 485.1,689.3" fill="none" stroke="#6ea5dc" stroke-width="1.8"/>
<polyline points="106.3,776.7 160.4,759.5 214.5,770 268.6,748.6 322.7,764.5 376.9,754.2 431,771.3 485.1,732.6" fill="none" stroke="#def032" stroke-width="1.9"/>
<circle cx="106.3" cy="713.6" r="3.3" fill="#6ea5dc"/>
<circle cx="106.3" cy="776.7" r="3.4" fill="#def032"/>
<circle cx="160.4" cy="722.4" r="3.3" fill="#6ea5dc"/>
<circle cx="160.4" cy="759.5" r="3.4" fill="#def032"/>
<circle cx="214.5" cy="722.7" r="3.3" fill="#6ea5dc"/>
<circle cx="214.5" cy="770" r="3.4" fill="#def032"/>
<circle cx="268.6" cy="709.3" r="3.3" fill="#6ea5dc"/>
<circle cx="268.6" cy="748.6" r="3.4" fill="#def032"/>
<circle cx="322.7" cy="714.8" r="3.3" fill="#6ea5dc"/>
<circle cx="322.7" cy="764.5" r="3.4" fill="#def032"/>
<circle cx="376.9" cy="709.5" r="3.3" fill="#6ea5dc"/>
<circle cx="376.9" cy="754.2" r="3.4" fill="#def032"/>
<circle cx="431" cy="706.4" r="3.3" fill="#6ea5dc"/>
<circle cx="431" cy="771.3" r="3.4" fill="#def032"/>
<circle cx="485.1" cy="689.3" r="3.3" fill="#6ea5dc"/>
<circle cx="485.1" cy="732.6" r="3.4" fill="#def032"/>
<path d="M87.4,650V836.7H504.5" fill="none" stroke="#3a3a3a" stroke-width="1.1"/>
<path d="M84.4,836.7H87.4" stroke="#3a3a3a" stroke-width="1.1"/>
<path d="M83.8,836.8H87.4" stroke="#3a3a3a" stroke-width="1"/>
<text x="81" y="841.8" font-size="10.5" text-anchor="end" fill="#222" stroke="#222" stroke-width="0.12" textLength="17" lengthAdjust="spacingAndGlyphs" >0.0</text>
<path d="M83.8,805.7H87.4" stroke="#3a3a3a" stroke-width="1"/>
<text x="81" y="810.7" font-size="10.5" text-anchor="end" fill="#222" stroke="#222" stroke-width="0.12" textLength="17" lengthAdjust="spacingAndGlyphs" >0.1</text>
<path d="M83.8,774.7H87.4" stroke="#3a3a3a" stroke-width="1"/>
<text x="81" y="779.7" font-size="10.5" text-anchor="end" fill="#222" stroke="#222" stroke-width="0.12" textLength="17" lengthAdjust="spacingAndGlyphs" >0.2</text>
<path d="M83.8,743.6H87.4" stroke="#3a3a3a" stroke-width="1"/>
<text x="81" y="748.6" font-size="10.5" text-anchor="end" fill="#222" stroke="#222" stroke-width="0.12" textLength="17" lengthAdjust="spacingAndGlyphs" >0.3</text>
<path d="M83.8,712.6H87.4" stroke="#3a3a3a" stroke-width="1"/>
<text x="81" y="717.6" font-size="10.5" text-anchor="end" fill="#222" stroke="#222" stroke-width="0.12" textLength="17" lengthAdjust="spacingAndGlyphs" >0.4</text>
<path d="M83.8,681.5H87.4" stroke="#3a3a3a" stroke-width="1"/>
<text x="81" y="686.5" font-size="10.5" text-anchor="end" fill="#222" stroke="#222" stroke-width="0.12" textLength="17" lengthAdjust="spacingAndGlyphs" >0.5</text>
<path d="M83.8,650.4H87.4" stroke="#3a3a3a" stroke-width="1"/>
<text x="81" y="655.4" font-size="10.5" text-anchor="end" fill="#222" stroke="#222" stroke-width="0.12" textLength="17" lengthAdjust="spacingAndGlyphs" >0.6</text>
<path d="M106.3,836.7V840.4" stroke="#3a3a3a" stroke-width="1"/>
<text x="106.3" y="851.8" font-size="10.5" text-anchor="middle" fill="#222" stroke="#222" stroke-width="0.12" >1</text>
<path d="M160.4,836.7V840.4" stroke="#3a3a3a" stroke-width="1"/>
<text x="160.4" y="851.8" font-size="10.5" text-anchor="middle" fill="#222" stroke="#222" stroke-width="0.12" >2</text>
<path d="M214.5,836.7V840.4" stroke="#3a3a3a" stroke-width="1"/>
<text x="214.5" y="851.8" font-size="10.5" text-anchor="middle" fill="#222" stroke="#222" stroke-width="0.12" >3</text>
<path d="M268.6,836.7V840.4" stroke="#3a3a3a" stroke-width="1"/>
<text x="268.6" y="851.8" font-size="10.5" text-anchor="middle" fill="#222" stroke="#222" stroke-width="0.12" >4</text>
<path d="M322.7,836.7V840.4" stroke="#3a3a3a" stroke-width="1"/>
<text x="322.7" y="851.8" font-size="10.5" text-anchor="middle" fill="#222" stroke="#222" stroke-width="0.12" >5</text>
<path d="M376.9,836.7V840.4" stroke="#3a3a3a" stroke-width="1"/>
<text x="376.9" y="851.8" font-size="10.5" text-anchor="middle" fill="#222" stroke="#222" stroke-width="0.12" >6</text>
<path d="M431,836.7V840.4" stroke="#3a3a3a" stroke-width="1"/>
<text x="431" y="851.8" font-size="10.5" text-anchor="middle" fill="#222" stroke="#222" stroke-width="0.12" >7</text>
<path d="M485.1,836.7V840.4" stroke="#3a3a3a" stroke-width="1"/>
<text x="485.1" y="851.8" font-size="10.5" text-anchor="middle" fill="#222" stroke="#222" stroke-width="0.12" >8</text>
<text x="445" y="881.8" font-size="14" text-anchor="middle" fill="#000" stroke="#000" stroke-width="0.22" textLength="59.4" lengthAdjust="spacingAndGlyphs" >Subject #</text>
<text x="45.4" y="734.1" font-size="14" text-anchor="middle" fill="#000" stroke="#000" stroke-width="0.22" textLength="29.8" lengthAdjust="spacingAndGlyphs" transform="rotate(-90 45.4 734.1)" >MAE</text>
<text x="285" y="634.1" font-size="17" text-anchor="middle" fill="#000" stroke="#000" stroke-width="0.22" textLength="131.5" lengthAdjust="spacingAndGlyphs" >Cerebellar cortex</text>
<rect x="404.3" y="786" width="98.4" height="46.3" fill="#fff" fill-opacity="0.85" stroke="#d6d6d6" stroke-width="0.9"/>
<path d="M413,798.3H445.8" stroke="#def032" stroke-width="1.9"/>
<circle cx="429.7" cy="798.3" r="3.5" fill="#def032"/>
<path d="M413,821.4H445.8" stroke="#6ea5dc" stroke-width="1.9"/>
<circle cx="429.7" cy="821.4" r="3.5" fill="#6ea5dc"/>
<text x="450.7" y="802.2" font-size="10.5" text-anchor="start" fill="#111" stroke="#111" stroke-width="0.12" textLength="45.6" lengthAdjust="spacingAndGlyphs" >cMF-TVB</text>
<text x="450.7" y="825.5" font-size="10.5" text-anchor="start" fill="#111" stroke="#111" stroke-width="0.12" textLength="20" lengthAdjust="spacingAndGlyphs" >TVB</text>
<path d="M551.2,650V836.4H682.9" fill="none" stroke="#3a3a3a" stroke-width="1.1"/>
<path d="M548.5,836.4H551.2" stroke="#3a3a3a" stroke-width="1.1"/>
<path d="M548,836.8H551.2" stroke="#3a3a3a" stroke-width="1"/>
<path d="M548,805.7H551.2" stroke="#3a3a3a" stroke-width="1"/>
<path d="M548,774.7H551.2" stroke="#3a3a3a" stroke-width="1"/>
<path d="M548,743.6H551.2" stroke="#3a3a3a" stroke-width="1"/>
<path d="M548,712.6H551.2" stroke="#3a3a3a" stroke-width="1"/>
<path d="M548,681.5H551.2" stroke="#3a3a3a" stroke-width="1"/>
<path d="M548,650.4H551.2" stroke="#3a3a3a" stroke-width="1"/>
<path d="M584.5,836.4V839.8" stroke="#3a3a3a" stroke-width="1"/>
<path d="M650.1,836.4V839.8" stroke="#3a3a3a" stroke-width="1"/>
<path d="M584.5,752.7V732.5M570.7,732.5H597.8M584.5,770.3V776.4M570.7,776.4H597.8" stroke="#3d3d3d" stroke-width="1.3" fill="none"/>
<rect x="558.2" y="752.7" width="52.5" height="17.6" fill="#c8d733" stroke="#3d3d3d" stroke-width="1.3"/>
<path d="M558.2,761.6H610.7" stroke="#3d3d3d" stroke-width="1.3"/>
<path d="M650.1,708.2V706.3M636.3,706.3H663.8M650.1,716.6V722.6M636.3,722.6H663.8" stroke="#3d3d3d" stroke-width="1.3" fill="none"/>
<rect x="623.3" y="708.2" width="53.2" height="8.4" fill="#78abdd" stroke="#3d3d3d" stroke-width="1.3"/>
<path d="M623.3,711.6H676.5" stroke="#3d3d3d" stroke-width="1.3"/>
<circle cx="650.1" cy="689.3" r="3.2" fill="none" stroke="#3d3d3d" stroke-width="1.2"/>
<text x="586.9" y="853.3" font-size="13" text-anchor="middle" fill="#000" stroke="#000" stroke-width="0.22" textLength="32.4" lengthAdjust="spacingAndGlyphs" >cMF-</text>
<text x="585" y="870.8" font-size="13" text-anchor="middle" fill="#000" stroke="#000" stroke-width="0.22" textLength="26.4" lengthAdjust="spacingAndGlyphs" >TVB</text>
<text x="650.6" y="856.4" font-size="13" text-anchor="middle" fill="#000" stroke="#000" stroke-width="0.22" textLength="26.4" lengthAdjust="spacingAndGlyphs" >TVB</text>
</svg>
</body></html>
